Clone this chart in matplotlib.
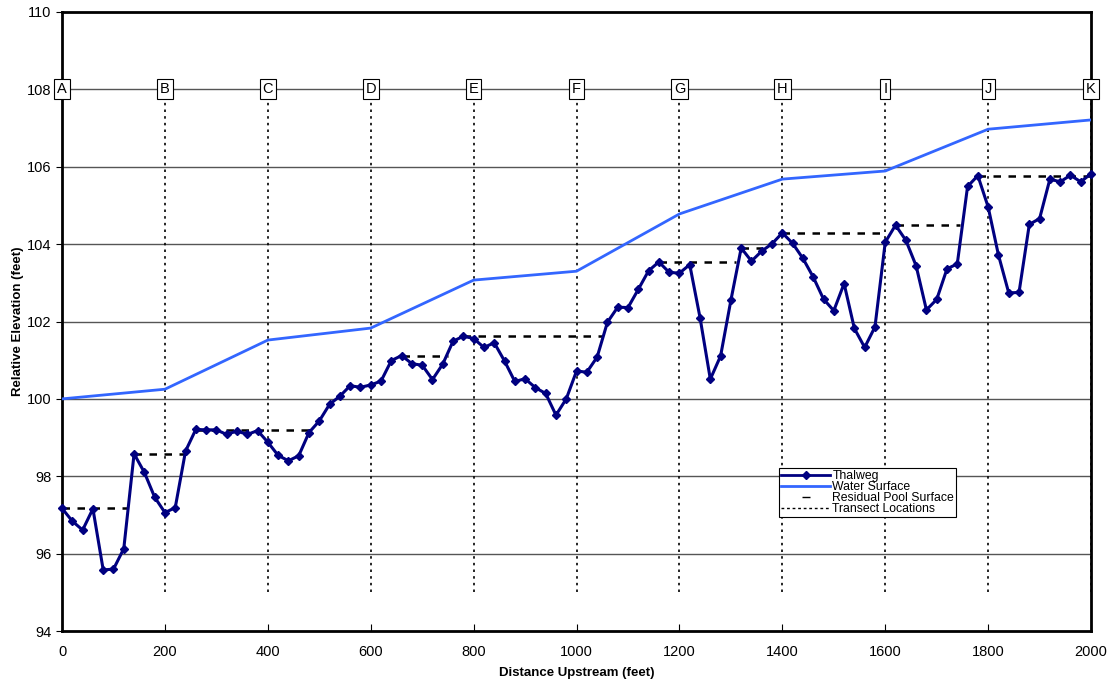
import matplotlib
matplotlib.use("Agg")
import matplotlib.pyplot as plt
from matplotlib.lines import Line2D

plt.rcParams['font.family'] = ['Liberation Sans', 'DejaVu Sans']

# ---- data ----
thalweg_x = list(range(0, 2001, 20))
thalweg_y = [97.17, 96.84, 96.61, 97.16, 95.58, 95.60, 96.13, 98.58, 98.10, 97.46,
             97.06, 97.19, 98.65, 99.21, 99.20, 99.20, 99.08, 99.17, 99.08, 99.18,
             98.88, 98.54, 98.40, 98.53, 99.13, 99.43, 99.86, 100.07, 100.34, 100.30,
             100.36, 100.46, 100.99, 101.12, 100.91, 100.87, 100.50, 100.90, 101.49, 101.62,
             101.56, 101.33, 101.45, 100.98, 100.45, 100.52, 100.29, 100.14, 99.58, 100.00,
             100.72, 100.69, 101.08, 101.98, 102.37, 102.36, 102.83, 103.31, 103.54, 103.27,
             103.25, 103.47, 102.10, 100.51, 101.11, 102.55, 103.90, 103.56, 103.82, 104.01,
             104.29, 104.02, 103.63, 103.15, 102.58, 102.28, 102.98, 101.82, 101.33, 101.86,
             104.05, 104.49, 104.10, 103.44, 102.30, 102.57, 103.36, 103.49, 105.49, 105.77,
             104.96, 103.72, 102.74, 102.75, 104.51, 104.66, 105.68, 105.61, 105.78, 105.61,
             105.82]

water_x = [0, 200, 400, 600, 800, 1000, 1200, 1400, 1600, 1800, 2000]
water_y = [100.00, 100.25, 101.52, 101.83, 103.07, 103.30, 104.78, 105.68, 105.89, 106.97, 107.21]

pool_start = [0, 140, 260, 660, 780, 1160, 1320, 1400, 1620, 1780]
pool_end = [127, 240, 480, 750, 1050, 1310, 1360, 1600, 1745, 2000]
pool_elev = [97.17, 98.58, 99.20, 101.12, 101.62, 103.54, 103.90, 104.29, 104.49, 105.77]

transect_x = [0, 200, 400, 600, 800, 1000, 1200, 1400, 1600, 1800, 2000]
transect_labels = ["A", "B", "C", "D", "E", "F", "G", "H", "I", "J", "K"]
transect_bottom = 95.0
transect_top = 107.75
label_elev = 108.0

x_ticks = list(range(0, 2001, 200))
y_ticks = list(range(94, 111, 2))

# ---- figure ----
fig = plt.figure(figsize=(11.08, 6.88), dpi=100)
ax = fig.add_axes([0.056, 0.0828, 0.9287, 0.8998])

ax.set_xlim(0, 2000)
ax.set_ylim(94, 110)

for yv in y_ticks[1:-1]:
    ax.axhline(yv, color="#555555", lw=1.0, zorder=1)

# transects
for xv in transect_x:
    ax.plot([xv, xv], [transect_bottom, transect_top], color="black", lw=1.2,
            linestyle=(0, (1.5, 2.5)), zorder=2)
for xv, lab in zip(transect_x, transect_labels):
    ax.text(xv, label_elev, lab, ha="center", va="center", fontsize=10.5,
            bbox=dict(boxstyle="square,pad=0.2", fc="white", ec="black", lw=0.8),
            zorder=6, clip_on=False)

# water surface
ax.plot(water_x, water_y, color="#3366FF", lw=2.0, zorder=3)

# residual pool
for s, e, v in zip(pool_start, pool_end, pool_elev):
    ax.plot([s, e], [v, v], color="black", lw=1.8, linestyle=(0, (3, 3)), zorder=4)

# thalweg
ax.plot(thalweg_x, thalweg_y, color="#000080", lw=2.2, marker="D", markersize=4.5,
        zorder=5, clip_on=False)

ax.set_xticks(x_ticks)
ax.set_yticks(y_ticks)
ax.tick_params(axis="x", direction="in", length=5, labelsize=10.5, pad=10)
ax.tick_params(axis="y", direction="out", length=4, labelsize=10.5)
for sp in ax.spines.values():
    sp.set_linewidth(2.0)
    sp.set_color("black")

ax.set_xlabel("Distance Upstream (feet)", fontsize=9.5, fontweight="bold", labelpad=6)
ax.set_ylabel("Relative Elevation (feet)", fontsize=9.5, fontweight="bold", labelpad=2)

handles = [
    Line2D([], [], color="#000080", lw=2, marker="D", markersize=4),
    Line2D([], [], color="#3366FF", lw=2),
    Line2D([], [], color="black", lw=2.5, linestyle="none", marker="_", markersize=6),
    Line2D([], [], color="black", lw=1, linestyle=(0, (2, 2))),
]
labels = ["Thalweg", "Water Surface", "Residual Pool Surface", "Transect Locations"]
leg = ax.legend(handles, labels, loc="upper left", bbox_to_anchor=(0.697, 0.263),
                fontsize=8.8, frameon=True, fancybox=False, edgecolor="black",
                framealpha=1, borderpad=0.15, labelspacing=-0.08, handlelength=4,
                handletextpad=0.2, borderaxespad=0)
leg.get_frame().set_linewidth(0.8)
leg.set_zorder(10)

fig.savefig("out.png", dpi=100)
